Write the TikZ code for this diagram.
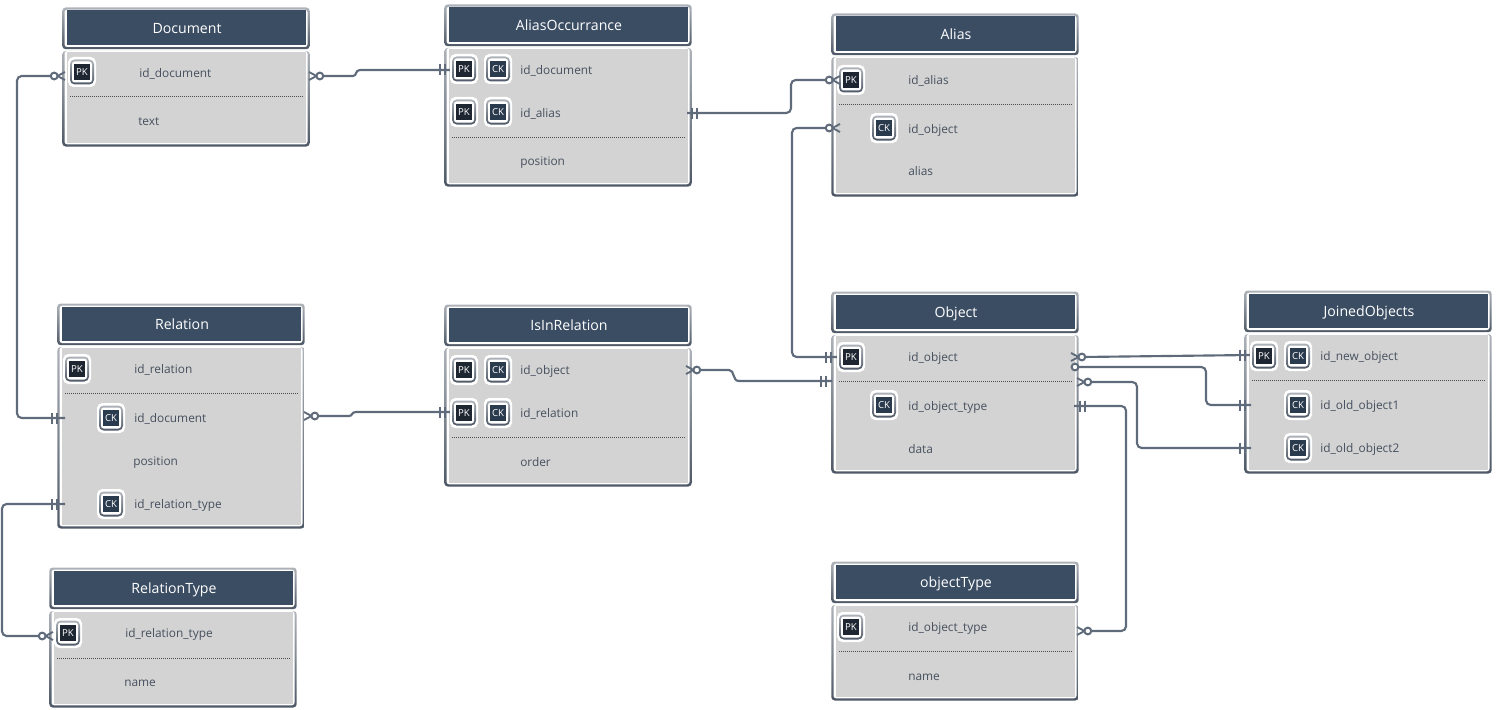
\documentclass[tikz,border=0pt]{standalone}
\usepackage{fontspec}
\setmainfont{Open Sans}
\usetikzlibrary{calc}
\definecolor{headc}{HTML}{3B4D63}
\definecolor{bodyc}{HTML}{D3D3D3}
\definecolor{txtc}{HTML}{46505E}
\definecolor{linec}{HTML}{5F6B7A}
\definecolor{edgeD}{HTML}{4E5866}
\definecolor{edgeL}{HTML}{AEB3B9}
\definecolor{pkc}{HTML}{1E2632}
\definecolor{ckc}{HTML}{2B3B4E}
\tikzset{
  x=0.75pt,y=-0.75pt,
  titletext/.style={font=\fontsize{10.6}{12}\selectfont,text=white,inner sep=0pt},
  rowtext/.style={font=\fontsize{8.9}{11}\selectfont,text=txtc,inner sep=0pt,anchor=base west},
  badgetext/.style={font=\fontsize{7.2}{8}\selectfont,text=white,inner sep=0pt},
  sep/.style={draw=black!70,line width=0.75pt,dash pattern=on 0.75pt off 0.75pt},
  conn/.style={draw=linec,line width=1.6pt,rounded corners=3.5pt},
  jogconn/.style={draw=linec,line width=1.6pt},
  tick/.style={draw=linec,line width=1.4pt},
  ring/.style={draw=linec,line width=1.5pt,fill=white},
  pics/bars/.style={code={
    \draw[tick] (0,-5.5) -- (0,5.5);
    \draw[tick] (5,-5.5) -- (5,5.5);
  }},
  pics/crowring/.style={code={
    \draw[draw=linec,line width=1.4pt] (0,-4) -- (7.5,0) -- (0,4);
    \draw[ring] (10.8,0) circle (3.4);
  }}
}
% name, x1, x2, head top, head bottom, body bottom, title
\newcommand{\enttable}[7]{%
  \shade[top color=edgeL,bottom color=edgeD,rounded corners=2.5pt] (#2-0.7,#4-0.5) rectangle (#3+0.7,#5+1.2);
  \fill[white,rounded corners=2pt] (#2+1.5,#4+1.7) rectangle (#3-1.5,#5-1);
  \fill[headc] (#2+3.5,#4+2.5) rectangle (#3-3.5,#5-3);
  \shade[top color=edgeL,bottom color=edgeD,rounded corners=2.5pt] (#2-0.7,#5+3) rectangle (#3+0.7,#6+0.5);
  \fill[white,rounded corners=2pt] (#2+1.5,#5+3) rectangle (#3-1.5,#6-1.7);
  \fill[bodyc] (#2+3.5,#5+4) rectangle (#3-3.5,#6-3);
  \node[titletext] (#1) at ({(#2+#3)/2+1},{(#4+#5)/2+2}) {\strut #7};
}
% name, cx, cy, text, fill colour
\newcommand{\badge}[5]{%
  \fill[white,rounded corners=4pt] (#2-14,#3-15) rectangle (#2+14,#3+15);
  \shade[top color=edgeL,bottom color=edgeD,rounded corners=3.5pt] (#2-12,#3-12.5) rectangle (#2+12,#3+12.5);
  \fill[white,rounded corners=2pt] (#2-10,#3-10.5) rectangle (#2+10,#3+10.5);
  \node[badgetext,fill=#5,minimum width=12pt,minimum height=12pt] (#1) at (#2,#3) {#4};
}
\newcommand{\rowlabel}[4]{\node[rowtext] (#1) at (#2,#3+5.5) {#4};}
\newcommand{\sepline}[3]{\draw[sep] (#1+7,#3) -- (#2-6,#3);}
\begin{document}
\begin{tikzpicture}
\useasboundingbox (0,0) rectangle (1506,710);
% tables
\enttable{Doc}{63}{309}{8}{48}{146}{Document}
\enttable{AO}{445}{691}{5}{45}{186}{AliasOccurrance}
\enttable{Al}{832}{1078}{14}{54}{196}{Alias}
\enttable{Ob}{832}{1078}{292}{332}{473}{Object}
\enttable{Jo}{1245}{1491}{291}{331}{473}{JoinedObjects}
\enttable{Re}{58}{304}{304}{344}{528}{Relation}
\enttable{Is}{445}{691}{305}{345}{486}{IsInRelation}
\enttable{RT}{50}{296}{568}{608}{707}{RelationType}
\enttable{OT}{832}{1078}{562}{602}{700}{objectType}
% separators
\sepline{63}{309}{97}
\sepline{445}{691}{137}
\sepline{832}{1078}{104}
\sepline{832}{1078}{381}
\sepline{1245}{1491}{380}
\sepline{58}{304}{393}
\sepline{445}{691}{437}
\sepline{50}{296}{658}
\sepline{832}{1078}{651}
% connectors
\coordinate (a1) at (56,76); \coordinate (a2) at (65,418);
\draw[conn] (a1) -- (17,76) -- (17,418) -- (a2);
\coordinate (b1) at (320,76); \coordinate (b2) at (452,70);
\draw[jogconn] (b1) -- (353,76) .. controls (357,76) and (355,70) .. (360,70) -- (b2);
\coordinate (c1) at (687,113); \coordinate (c2) at (825,80);
\draw[conn] (c1) -- (791,113) -- (791,80) -- (c2);
\coordinate (d1) at (825,128); \coordinate (d2) at (838,357);
\draw[conn] (d1) -- (792,128) -- (792,357) -- (d2);
\coordinate (e1) at (314,416); \coordinate (e2) at (452,412);
\draw[jogconn] (e1) -- (349,416) .. controls (353,416) and (351,412) .. (356,412) -- (e2);
\coordinate (f1) at (65,504); \coordinate (f2) at (38,636);
\draw[conn] (f1) -- (2,504) -- (2,636) -- (f2);
\coordinate (g1) at (696,370); \coordinate (g2) at (832,381);
\draw[jogconn] (g1) -- (729,370) .. controls (735,370) and (732,381) .. (739,381) -- (g2);
\coordinate (h1) at (1082,357); \coordinate (h2) at (1251,355);
\draw[conn] (h1) -- (h2);
\coordinate (i1) at (1075,367); \coordinate (i2) at (1251,405);
\draw[conn] (i1) -- (1206,367) -- (1206,405) -- (i2);
\coordinate (j1) at (1088,382); \coordinate (j2) at (1251,448);
\draw[conn] (j1) -- (1137,382) -- (1137,448) -- (j2);
\coordinate (k1) at (1074,406); \coordinate (k2) at (1088,631);
\draw[conn] (k1) -- (1126,406) -- (1126,631) -- (k2);
% badges
\badge{b1pk}{82}{72}{PK}{pkc}
\badge{b2pk}{464}{69}{PK}{pkc}
\badge{b2ck}{498}{69}{CK}{ckc}
\badge{b3pk}{464}{112}{PK}{pkc}
\badge{b3ck}{498}{112}{CK}{ckc}
\badge{b4pk}{851}{80}{PK}{pkc}
\badge{b4ck}{884}{128}{CK}{ckc}
\badge{b5pk}{851}{357}{PK}{pkc}
\badge{b5ck}{884}{405}{CK}{ckc}
\badge{b6pk}{1264}{356}{PK}{pkc}
\badge{b6ck}{1298}{356}{CK}{ckc}
\badge{b7ck}{1298}{405}{CK}{ckc}
\badge{b8ck}{1298}{448}{CK}{ckc}
\badge{b9pk}{77}{369}{PK}{pkc}
\badge{b9ck}{111}{418}{CK}{ckc}
\badge{b10ck}{111}{504}{CK}{ckc}
\badge{b11pk}{464}{370}{PK}{pkc}
\badge{b11ck}{498}{370}{CK}{ckc}
\badge{b12pk}{464}{413}{PK}{pkc}
\badge{b12ck}{498}{413}{CK}{ckc}
\badge{b13pk}{68}{633}{PK}{pkc}
\badge{b14pk}{851}{627}{PK}{pkc}
% rows
\rowlabel{r1}{139}{72}{id\_document}
\rowlabel{r2}{138}{120}{text}
\rowlabel{r3}{520}{69}{id\_document}
\rowlabel{r4}{520}{112}{id\_alias}
\rowlabel{r5}{520}{160}{position}
\rowlabel{r6}{908}{79}{id\_alias}
\rowlabel{r7}{908}{128}{id\_object}
\rowlabel{r8}{908}{170}{alias}
\rowlabel{r9}{908}{356}{id\_object}
\rowlabel{r10}{908}{405}{id\_object\_type}
\rowlabel{r11}{908}{448}{data}
\rowlabel{r12}{1320}{355}{id\_new\_object}
\rowlabel{r13}{1320}{404}{id\_old\_object1}
\rowlabel{r14}{1320}{447}{id\_old\_object2}
\rowlabel{r15}{134}{368}{id\_relation}
\rowlabel{r16}{134}{417}{id\_document}
\rowlabel{r17}{133}{460}{position}
\rowlabel{r18}{134}{503}{id\_relation\_type}
\rowlabel{r19}{520}{369}{id\_object}
\rowlabel{r20}{520}{412}{id\_relation}
\rowlabel{r21}{520}{461}{order}
\rowlabel{r22}{125}{632}{id\_relation\_type}
\rowlabel{r23}{124}{681}{name}
\rowlabel{r24}{908}{626}{id\_object\_type}
\rowlabel{r25}{908}{675}{name}
% connector ends
\pic[rotate=180] at (65,76) {crowring};
\pic at (52,418) {bars};
\pic at (309,76) {crowring};
\pic at (440,70) {bars};
\pic at (692,113) {bars};
\pic[rotate=180] at (840,80) {crowring};
\pic[rotate=180] at (840,128) {crowring};
\pic at (826,357) {bars};
\pic at (304,416) {crowring};
\pic at (440,412) {bars};
\pic at (52,504) {bars};
\pic[rotate=180] at (53,636) {crowring};
\pic at (686,370) {crowring};
\pic at (821,381) {bars};
\pic at (1071,357) {crowring};
\pic at (1240,355) {bars};
\draw[ring] (i1) circle (3.4);
\pic at (1240,405) {bars};
\pic at (1077,382) {crowring};
\pic at (1240,448) {bars};
\pic at (1080,406) {bars};
\pic at (1077,631) {crowring};
\end{tikzpicture}
\end{document}
